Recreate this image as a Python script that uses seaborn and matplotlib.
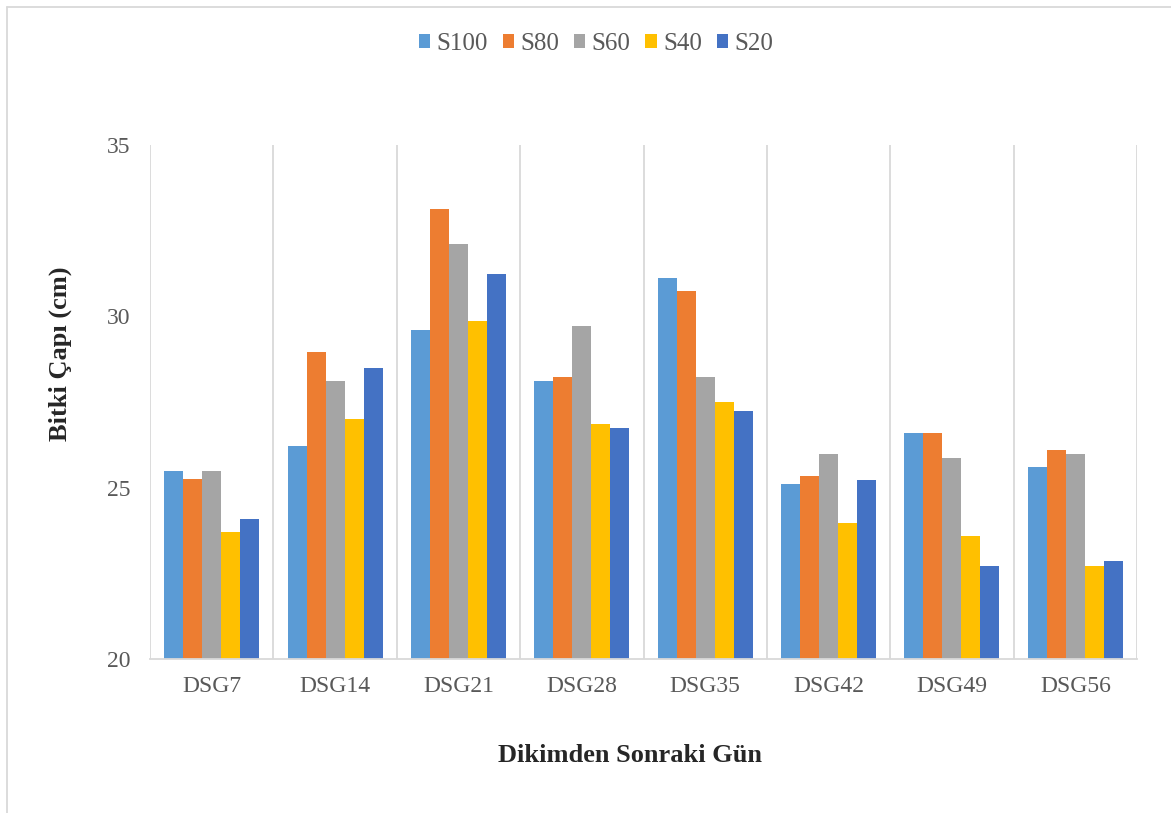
import numpy as np
import pandas as pd
import matplotlib.pyplot as plt
from matplotlib.lines import Line2D
import seaborn as sns

categories = ['DSG7', 'DSG14', 'DSG21', 'DSG28', 'DSG35', 'DSG42', 'DSG49', 'DSG56']
series = ['S100', 'S80', 'S60', 'S40', 'S20']
s100 = [25.48, 26.23, 29.61, 28.10, 31.12, 25.10, 26.60, 25.60]
s80 = [25.24, 28.97, 33.12, 28.24, 30.73, 25.35, 26.60, 26.11]
s60 = [25.48, 28.10, 32.12, 29.73, 28.24, 25.98, 25.86, 25.98]
s40 = [23.72, 26.99, 29.86, 26.86, 27.49, 23.97, 23.60, 22.72]
s20 = [24.10, 28.49, 31.25, 26.74, 27.23, 25.23, 22.72, 22.85]
colors = ['#5B9BD5', '#ED7D31', '#A5A5A5', '#FFC000', '#4472C4']

rows = []
for name, vals in zip(series, [s100, s80, s60, s40, s20]):
    for cat, v in zip(categories, vals):
        rows.append({'Gün': cat, 'Seri': name, 'Değer': v})
df = pd.DataFrame(rows)

sns.set_theme(style='white')
plt.rcParams['font.family'] = ['Liberation Serif', 'DejaVu Serif']

fig = plt.figure(figsize=(11.71, 8.13), dpi=100)
ax = fig.add_axes([150 / 1171, 1 - 659 / 813, (1137 - 150) / 1171, (659 - 145) / 813])

sns.barplot(data=df, x='Gün', y='Değer', hue='Seri', hue_order=series,
            order=categories, palette=colors, width=0.77, gap=0,
            saturation=1, linewidth=0, ax=ax)

ax.set_ylim(20, 35)
ax.set_yticks([20, 25, 30, 35])
ax.set_xlim(-0.5, len(categories) - 0.5)
ax.set_xticks(np.arange(-0.5, len(categories)), minor=True)
ax.grid(which='minor', axis='x', color='#D9D9D9', linewidth=1.3)
ax.grid(which='major', axis='both', visible=False)
ax.set_axisbelow(True)
ax.tick_params(which='both', length=0)
ax.tick_params(axis='y', labelsize=17, labelcolor='#595959', pad=14)
ax.tick_params(axis='x', labelsize=17, labelcolor='#595959', pad=12)

for s in ['top', 'right', 'left']:
    ax.spines[s].set_visible(False)
ax.spines['bottom'].set_color('#D9D9D9')
ax.spines['bottom'].set_linewidth(1.3)

ax.set_xlabel('Dikimden Sonraki Gün', fontsize=19, fontweight='bold')
ax.set_ylabel('Bitki Çapı (cm)', fontsize=19, fontweight='bold')
ax.xaxis.set_label_coords((630 - 150) / 987, (659 - 755) / 514)
ax.yaxis.set_label_coords((60 - 150) / 987, (659 - 354) / 514)
ax.xaxis.label.set_va('center')
ax.yaxis.label.set_va('center')

handles, labels = ax.get_legend_handles_labels()
ax.legend(handles, labels, loc='center', bbox_to_anchor=(596 / 1171, 1 - 44 / 813),
          bbox_transform=fig.transFigure, ncol=5, frameon=False, fontsize=18,
          handlelength=0.45, handleheight=0.45, handletextpad=0.25, columnspacing=0.6,
          labelcolor='#595959')

# chart border (Excel-style)
fig.add_artist(Line2D([7 / 1171, 7 / 1171], [0, 1 - 7 / 813], transform=fig.transFigure,
                      color='#D9D9D9', linewidth=1.3))
fig.add_artist(Line2D([7 / 1171, 1], [1 - 7 / 813, 1 - 7 / 813], transform=fig.transFigure,
                      color='#D9D9D9', linewidth=1.3))

fig.savefig('out.png', dpi=100, facecolor='white')
